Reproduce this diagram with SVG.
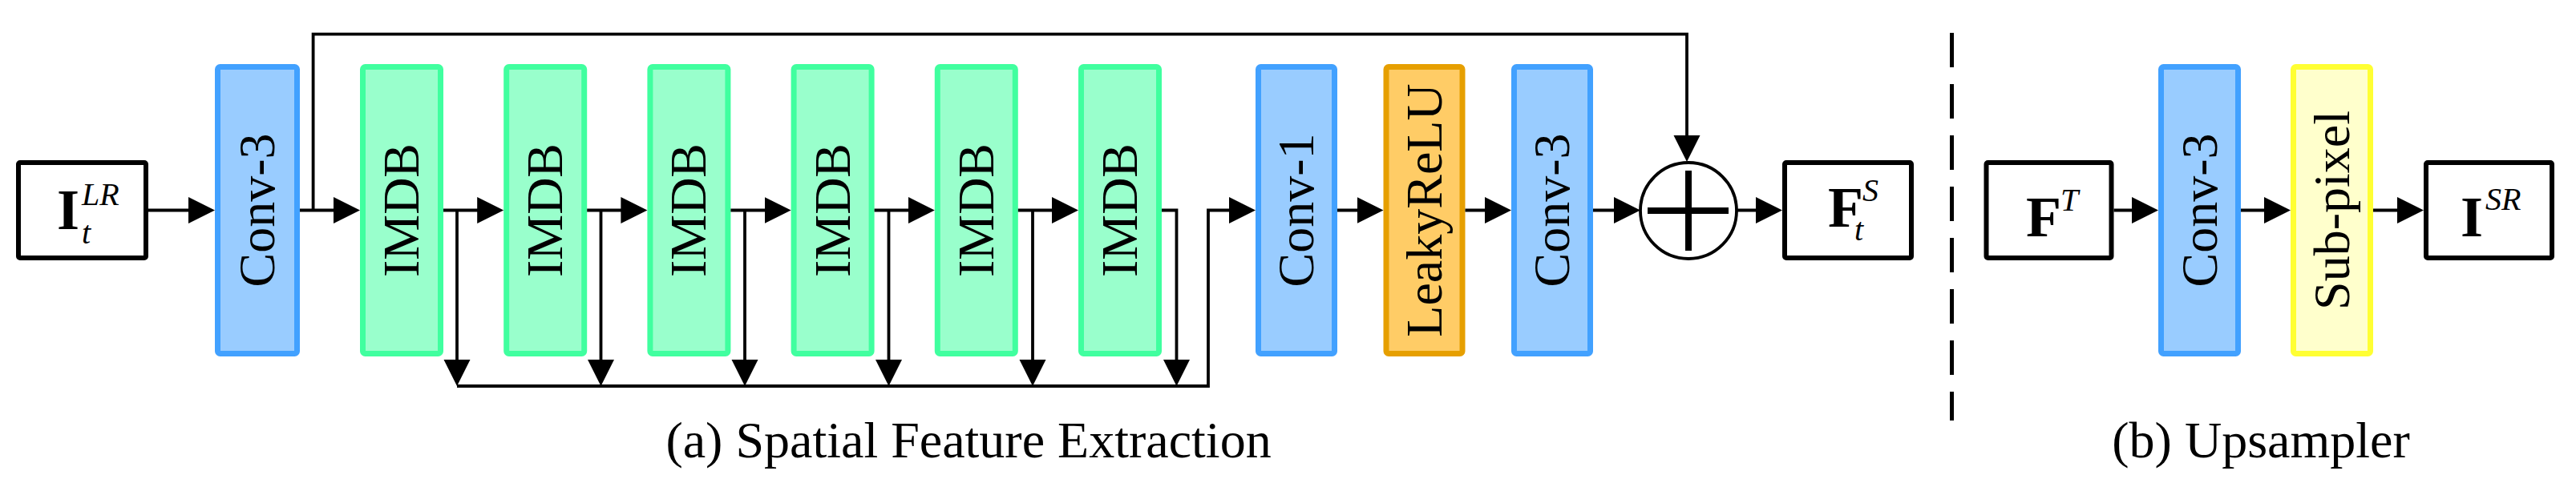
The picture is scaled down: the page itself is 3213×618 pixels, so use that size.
<svg xmlns="http://www.w3.org/2000/svg" width="3213" height="618" viewBox="0 0 3213 618">
<style>
.blk{stroke-width:7}
.blue{fill:#99CCFF;stroke:#42A1FF}
.green{fill:#99FFCC;stroke:#40FF9F}
.orange{fill:#FFCC66;stroke:#E69F00}
.yellow{fill:#FFFFCC;stroke:#FFFF33}
.box{fill:#FFFFFF;stroke:#000;stroke-width:6}
text{font-family:'Liberation Serif','Times New Roman',serif}
.lbl{font-size:64px;fill:#000;text-anchor:middle}
.cap{font-size:64px;fill:#000;text-anchor:middle}
.math{fill:#000}
.mb{font-weight:bold;font-size:72px}
.mi{font-style:italic;font-size:40px}
.con{fill:none;stroke:#000;stroke-width:3.8}
</style>
<defs>
<marker id="ah" markerUnits="userSpaceOnUse" markerWidth="34" markerHeight="34" viewBox="0 0 34 34" refX="25" refY="16.5" orient="auto">
<path d="M0,0 L33,16.5 L0,33 Z" fill="#000"/>
</marker>
</defs>
<g id="input">
<rect class="box" x="23" y="203" width="159" height="119" rx="2"/>
<text class="math" font-family="Liberation Serif, serif"><tspan class="mb" x="71" y="286">I</tspan><tspan class="mi" x="102" y="256">LR</tspan><tspan class="mi" x="102" y="304">t</tspan></text>
</g>
<g id="conv3a"><rect class="blk blue" x="271.5" y="83.5" width="99" height="358" rx="3"/><text class="lbl" font-family="Liberation Serif, serif" transform="translate(321,262.5) rotate(-90)" y="21">Conv-3</text></g>
<g id="imdb1"><rect class="blk green" x="452.5" y="83.5" width="97" height="358" rx="3"/><text class="lbl" font-family="Liberation Serif, serif" transform="translate(501,262.5) rotate(-90)" y="21">IMDB</text></g>
<g id="imdb2"><rect class="blk green" x="631.7" y="83.5" width="97" height="358" rx="3"/><text class="lbl" font-family="Liberation Serif, serif" transform="translate(680.2,262.5) rotate(-90)" y="21">IMDB</text></g>
<g id="imdb3"><rect class="blk green" x="810.9" y="83.5" width="97" height="358" rx="3"/><text class="lbl" font-family="Liberation Serif, serif" transform="translate(859.4,262.5) rotate(-90)" y="21">IMDB</text></g>
<g id="imdb4"><rect class="blk green" x="990.1" y="83.5" width="97" height="358" rx="3"/><text class="lbl" font-family="Liberation Serif, serif" transform="translate(1038.6,262.5) rotate(-90)" y="21">IMDB</text></g>
<g id="imdb5"><rect class="blk green" x="1169.3" y="83.5" width="97" height="358" rx="3"/><text class="lbl" font-family="Liberation Serif, serif" transform="translate(1217.8,262.5) rotate(-90)" y="21">IMDB</text></g>
<g id="imdb6"><rect class="blk green" x="1348.5" y="83.5" width="97" height="358" rx="3"/><text class="lbl" font-family="Liberation Serif, serif" transform="translate(1397,262.5) rotate(-90)" y="21">IMDB</text></g>
<g id="conv1"><rect class="blk blue" x="1569.5" y="83.5" width="95" height="358" rx="3"/><text class="lbl" font-family="Liberation Serif, serif" transform="translate(1617,262.5) rotate(-90)" y="21">Conv-1</text></g>
<g id="lrelu"><rect class="blk orange" x="1729" y="83.5" width="95" height="358" rx="3"/><text class="lbl" font-family="Liberation Serif, serif" transform="translate(1776.5,262.5) rotate(-90)" y="21">LeakyReLU</text></g>
<g id="conv3b"><rect class="blk blue" x="1888.5" y="83.5" width="95" height="358" rx="3"/><text class="lbl" font-family="Liberation Serif, serif" transform="translate(1936,262.5) rotate(-90)" y="21">Conv-3</text></g>
<g id="add">
<circle cx="2106" cy="263" r="60" fill="#FFFFFF" stroke="#000" stroke-width="3.8"/>
<path d="M2055,263 H2156 M2106,213 V313" stroke="#000" stroke-width="8" fill="none"/>
</g>
<g id="fts">
<rect class="box" x="2226" y="203" width="158" height="119" rx="2"/>
<text class="math" font-family="Liberation Serif, serif"><tspan class="mb" x="2280" y="283">F</tspan><tspan class="mi" x="2323" y="251">S</tspan><tspan class="mi" x="2313" y="300">t</tspan></text>
</g>
<g id="divider"><line x1="2434.5" y1="41" x2="2434.5" y2="525" stroke="#000" stroke-width="5" stroke-dasharray="43 21"/></g>
<g id="ft">
<rect class="box" x="2477.5" y="203" width="156" height="119" rx="2"/>
<text class="math" font-family="Liberation Serif, serif"><tspan class="mb" x="2527" y="295">F</tspan><tspan class="mi" x="2570" y="263">T</tspan></text>
</g>
<g id="conv3c"><rect class="blk blue" x="2695.5" y="83.5" width="96" height="358" rx="3"/><text class="lbl" font-family="Liberation Serif, serif" transform="translate(2743.5,262.5) rotate(-90)" y="21">Conv-3</text></g>
<g id="subpixel"><rect class="blk yellow" x="2860.5" y="83.5" width="96" height="358" rx="3"/><text class="lbl" font-family="Liberation Serif, serif" transform="translate(2908.5,262.5) rotate(-90)" y="21">Sub-pixel</text></g>
<g id="isr">
<rect class="box" x="3026" y="203" width="157" height="119" rx="2"/>
<text class="math" font-family="Liberation Serif, serif"><tspan class="mb" x="3069" y="295">I</tspan><tspan class="mi" x="3100" y="262">SR</tspan></text>
</g>
<g id="connectors">
<path class="con" d="M185,262.5 H260" marker-end="url(#ah)"/>
<path class="con" d="M374,262.5 H441" marker-end="url(#ah)"/>
<path class="con" d="M390.6,262.5 V42.6 H2104 V194" marker-end="url(#ah)"/>
<path class="con" d="M553,262.5 H620.2" marker-end="url(#ah)"/>
<path class="con" d="M732.2,262.5 H799.4" marker-end="url(#ah)"/>
<path class="con" d="M911.4,262.5 H978.6" marker-end="url(#ah)"/>
<path class="con" d="M1090.6,262.5 H1157.8" marker-end="url(#ah)"/>
<path class="con" d="M1269.8,262.5 H1337" marker-end="url(#ah)"/>
<path class="con" d="M570,262.5 V474" marker-end="url(#ah)"/>
<path class="con" d="M749.5,262.5 V474" marker-end="url(#ah)"/>
<path class="con" d="M929,262.5 V474" marker-end="url(#ah)"/>
<path class="con" d="M1108.5,262.5 V474" marker-end="url(#ah)"/>
<path class="con" d="M1288,262.5 V474" marker-end="url(#ah)"/>
<path class="con" d="M1449,262.5 H1467.5 V474" marker-end="url(#ah)"/>
<path class="con" d="M570,482 H1507 V262.5 H1558" marker-end="url(#ah)"/>
<path class="con" d="M1668,262.5 H1717.5" marker-end="url(#ah)"/>
<path class="con" d="M1827.5,262.5 H1877" marker-end="url(#ah)"/>
<path class="con" d="M1987,262.5 H2038" marker-end="url(#ah)"/>
<path class="con" d="M2166,262.5 H2215" marker-end="url(#ah)"/>
<path class="con" d="M2636.5,262.5 H2684" marker-end="url(#ah)"/>
<path class="con" d="M2795,262.5 H2849" marker-end="url(#ah)"/>
<path class="con" d="M2960,262.5 H3015" marker-end="url(#ah)"/>
</g>
<text class="cap" font-family="Liberation Serif, serif" x="1208" y="571">(a) Spatial Feature Extraction</text>
<text class="cap" font-family="Liberation Serif, serif" x="2820" y="571">(b) Upsampler</text>
</svg>
